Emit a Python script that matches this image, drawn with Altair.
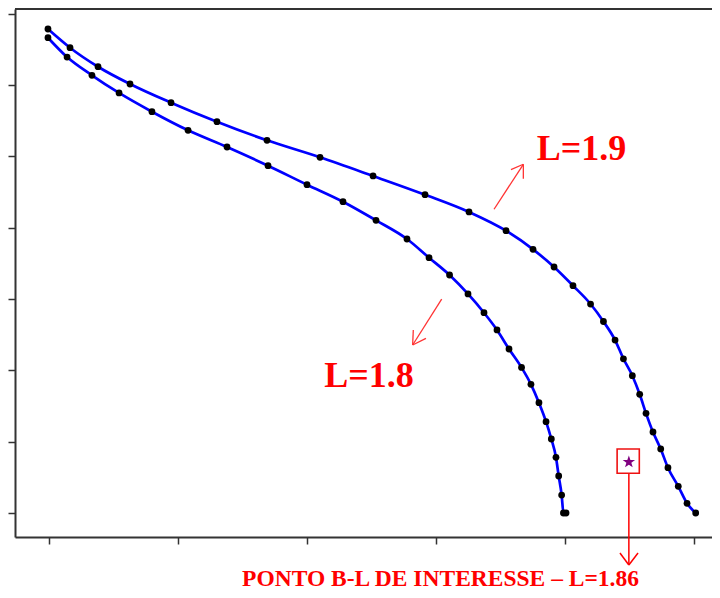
import altair as alt
import pandas as pd

# Curve L=1.9 (x, y in tick units)
x_19 = [-0.008, 0.163, 0.380, 0.628, 0.946, 1.302, 1.690, 2.101, 2.512, 2.915,
        3.256, 3.543, 3.752, 3.915, 4.062, 4.198, 4.298, 4.388, 4.453, 4.522,
        4.579, 4.628, 4.682, 4.742, 4.798, 4.878, 4.946, 5.013]
y_19 = [6.788, 6.526, 6.259, 6.017, 5.755, 5.488, 5.227, 4.989, 4.727, 4.464,
        4.222, 3.959, 3.698, 3.450, 3.188, 2.931, 2.686, 2.426, 2.163, 1.926,
        1.665, 1.398, 1.136, 0.898, 0.635, 0.374, 0.136, 0.000]

# Curve L=1.8
x_18 = [-0.008, 0.140, 0.333, 0.543, 0.798, 1.078, 1.380, 1.698, 2.000, 2.279,
        2.535, 2.775, 2.946, 3.105, 3.248, 3.372, 3.473, 3.566, 3.663, 3.736,
        3.798, 3.853, 3.894, 3.930, 3.951, 3.974, 3.988, 4.008]
y_18 = [6.666, 6.395, 6.139, 5.891, 5.628, 5.367, 5.133, 4.871, 4.605, 4.366,
        4.105, 3.843, 3.581, 3.338, 3.072, 2.809, 2.567, 2.300, 2.041, 1.805,
        1.547, 1.281, 1.038, 0.781, 0.519, 0.252, 0.000, 0.000]

x_ticks = [0, 1, 2, 3, 4, 5]
y_ticks = [0, 1, 2, 3, 4, 5, 6, 7]

# Point of interest (B-L, L=1.86)
star_x = [4.495]
star_y = [0.715]
box_x = [4.404]
box_x2 = [4.576]
box_y = [0.898]
box_y2 = [0.557]

STAR_PATH = ("M0,-1 L0.235,-0.324 L0.951,-0.309 L0.380,0.124 L0.588,0.809 "
             "L0,0.4 L-0.588,0.809 L-0.380,0.124 L-0.951,-0.309 L-0.235,-0.324 Z")

# Annotation arrows as segments (x, y) -> (x2, y2)
seg_x = [3.450, 3.581, 3.677, 3.044, 2.824, 2.922]
seg_y = [4.260, 4.816, 4.689, 3.001, 2.567, 2.450]
seg_x2 = [3.677, 3.677, 3.677, 2.819, 2.819, 2.819]
seg_y2 = [4.891, 4.891, 4.891, 2.356, 2.356, 2.356]

pt_x = [4.495, 4.426, 4.566]
pt_y = [0.557, -0.561, -0.561]
pt_x2 = [4.495, 4.495, 4.495]
pt_y2 = [-0.729, -0.729, -0.729]

big_text = ["L=1.9", "L=1.8"]
big_x = [4.128, 2.481]
big_y = [4.951, 1.767]
note_text = ["PONTO B-L DE INTERESSE \u2013 L=1.86"]
note_x = [3.035]
note_y = [-1.024]

top_y = [7.0687]

curves = pd.DataFrame({
    "x": x_19 + x_18,
    "y": y_19 + y_18,
    "L": ["1.9"] * len(x_19) + ["1.8"] * len(x_18),
})
segs = pd.DataFrame({"x": seg_x, "y": seg_y, "x2": seg_x2, "y2": seg_y2})
pt_segs = pd.DataFrame({"x": pt_x, "y": pt_y, "x2": pt_x2, "y2": pt_y2})
star = pd.DataFrame({"x": star_x, "y": star_y})
box = pd.DataFrame({"x": box_x, "x2": box_x2, "y": box_y, "y2": box_y2})
big = pd.DataFrame({"x": big_x, "y": big_y, "t": big_text})
note = pd.DataFrame({"x": note_x, "y": note_y, "t": note_text})
top = pd.DataFrame({"y": top_y})

xs = alt.Scale(domain=[-0.2636, 5.1395], nice=False, zero=False)
ys = alt.Scale(domain=[-0.3366, 7.0687], nice=False, zero=False)

axis_style = dict(labels=False, title=None, grid=False, tickSize=7,
                  domainColor="#333333", tickColor="#333333",
                  domainWidth=2, tickWidth=1.5)
X = alt.X("x:Q", scale=xs, axis=alt.Axis(values=x_ticks, **axis_style))
Y = alt.Y("y:Q", scale=ys, axis=alt.Axis(values=y_ticks, **axis_style))

lines = alt.Chart(curves).mark_line(
    color="#0000ff", strokeWidth=2.7, interpolate="monotone"
).encode(x=X, y=Y, detail="L:N")

points = alt.Chart(curves).mark_circle(
    color="black", size=46, opacity=1
).encode(x="x:Q", y="y:Q")

arrow_rules = alt.Chart(segs).mark_rule(
    color="#ff3333", strokeWidth=1.3
).encode(x="x:Q", y="y:Q", x2="x2:Q", y2="y2:Q")

pt_rules = alt.Chart(pt_segs).mark_rule(
    color="#ff0000", strokeWidth=1.5
).encode(x="x:Q", y="y:Q", x2="x2:Q", y2="y2:Q")

box_mark = alt.Chart(box).mark_rect(
    fillOpacity=0, stroke="#ee1111", strokeWidth=1.6
).encode(x="x:Q", x2="x2:Q", y="y:Q", y2="y2:Q")

star_mark = alt.Chart(star).mark_point(
    shape=STAR_PATH, filled=True, fill="#800080", strokeWidth=0,
    size=170, opacity=1
).encode(x="x:Q", y="y:Q")

big_labels = alt.Chart(big).mark_text(
    color="#ff0000", font="Liberation Serif", fontWeight="bold",
    fontSize=36, align="center", baseline="alphabetic"
).encode(x="x:Q", y="y:Q", text="t:N")

note_label = alt.Chart(note).mark_text(
    color="#ff0000", font="Liberation Serif", fontWeight="bold",
    fontSize=23.5, align="center", baseline="alphabetic"
).encode(x="x:Q", y="y:Q", text="t:N")

top_border = alt.Chart(top).mark_rule(color="#333333", strokeWidth=2).encode(
    y="y:Q"
)

chart = alt.layer(
    lines, points, arrow_rules, pt_rules, box_mark, star_mark,
    big_labels, note_label, top_border
).properties(
    width=697, height=528,
    padding={"left": 7, "top": 1, "right": 0, "bottom": 53},
    autosize="none",
).configure_view(stroke=None)

chart.save("out.html", embed_options={"renderer": "svg", "actions": False})
